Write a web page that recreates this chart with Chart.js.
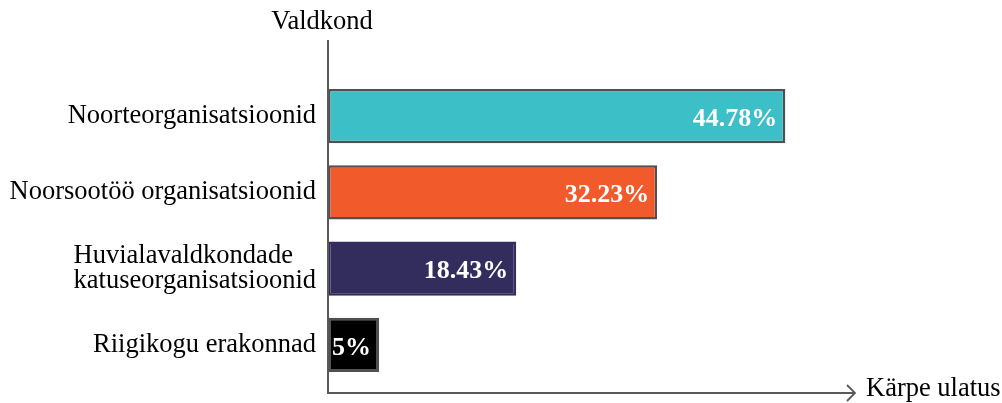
<!DOCTYPE html>
<html>
<head>
<meta charset="utf-8">
<script src="https://cdn.jsdelivr.net/npm/chart.js"></script>
<style>
  html, body { margin: 0; padding: 0; background: #fff; }
  #wrap { width: 1002px; height: 403px; }
</style>
</head>
<body>
<div id="wrap"><canvas id="myChart"></canvas></div>
<script>
// data
const categories = [
  'Noorteorganisatsioonid',
  'Noorsootöö organisatsioonid',
  ['Huvialavaldkondade', 'katuseorganisatsioonid'],
  'Riigikogu erakonnad'
];
const values = [44.78, 32.23, 18.43, 5];
const valueLabels = ['44.78%', '32.23%', '18.43%', '5%'];
const barColors = ['#3cbfc7', '#f15a2b', '#332d5e', '#000000'];
const barBorders = ['#505050', '#505050', '#332d5e', '#505050'];
const yTitle = 'Valdkond';
const xTitle = 'Kärpe ulatus';

const serif = "'Liberation Serif', 'Times New Roman', serif";
const axisColor = '#595959';

const drawStuff = {
  id: 'drawStuff',
  afterDatasetsDraw(chart) {
    const ctx = chart.ctx;
    const area = chart.chartArea;
    const yScale = chart.scales.y;
    const meta = chart.getDatasetMeta(0);

    ctx.save();
    // axis lines
    ctx.strokeStyle = axisColor;
    ctx.lineWidth = 2;
    ctx.beginPath();
    ctx.moveTo(area.left, 40);
    ctx.lineTo(area.left, 393);
    ctx.lineTo(855, 393);
    ctx.stroke();
    // arrow head
    ctx.lineWidth = 1.8;
    ctx.beginPath();
    ctx.moveTo(847, 385);
    ctx.lineTo(855, 393);
    ctx.lineTo(847, 401);
    ctx.stroke();

    // axis titles
    ctx.fillStyle = '#000';
    ctx.font = '26.5px ' + serif;
    ctx.textBaseline = 'middle';
    ctx.textAlign = 'center';
    ctx.fillText(yTitle, 322, 22);
    ctx.textAlign = 'left';
    ctx.fillText(xTitle, 866, 389);

    // category labels
    const lineH = 25;
    categories.forEach((lab, i) => {
      const lines = Array.isArray(lab) ? lab : [lab];
      const widest = Math.max(...lines.map(l => ctx.measureText(l).width));
      const x0 = area.left - 12 - widest;
      const yc = yScale.getPixelForValue(i);
      lines.forEach((l, j) => {
        ctx.fillText(l, x0, yc + (j - (lines.length - 1) / 2) * lineH);
      });
    });

    // value labels
    ctx.fillStyle = '#fff';
    ctx.font = 'bold 26px ' + serif;
    ctx.textAlign = 'right';
    meta.data.forEach((bar, i) => {
      ctx.fillText(valueLabels[i], bar.x - 8, bar.y + 3);
    });
    ctx.restore();
  }
};

new Chart(document.getElementById('myChart').getContext('2d'), {
  type: 'bar',
  data: {
    labels: categories,
    datasets: [{
      data: values,
      backgroundColor: barColors,
      borderColor: barBorders,
      borderWidth: 2.5,
      borderSkipped: false,
      barPercentage: 0.71,
      categoryPercentage: 1
    }]
  },
  options: {
    indexAxis: 'y',
    responsive: true,
    maintainAspectRatio: false,
    animation: false,
    events: [],
    layout: { padding: { top: 78, bottom: 20, left: 0, right: 145 } },
    plugins: {
      legend: { display: false },
      tooltip: { enabled: false },
      title: { display: false }
    },
    scales: {
      x: { display: false, min: 0, max: 51.8 },
      y: {
        grid: { display: false },
        border: { display: false },
        ticks: { display: false },
        afterFit(scale) { scale.width = 328; }
      }
    }
  },
  plugins: [drawStuff]
});
</script>
</body>
</html>
